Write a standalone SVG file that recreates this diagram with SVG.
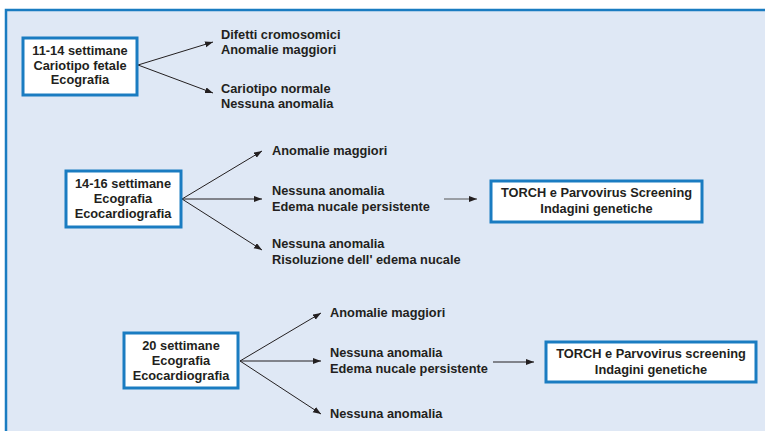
<svg xmlns="http://www.w3.org/2000/svg" width="765" height="431" viewBox="0 0 765 431">
<defs>
<style>
.t{font-family:"Liberation Sans",Arial,sans-serif;font-weight:bold;font-size:12.8px;fill:#231f20}
.c{text-anchor:middle}
.box{fill:#ffffff;stroke:#1a7cc1;stroke-width:3}
.ln{stroke:#231f20;stroke-width:1;fill:none;marker-end:url(#ah)}
</style>
<marker id="ah" markerUnits="userSpaceOnUse" markerWidth="9" markerHeight="7" refX="8" refY="3" orient="auto">
<path d="M0,0 L8,3 L0,6 z" fill="#231f20"/>
</marker>
</defs>
<rect x="0" y="0" width="765" height="431" fill="#ffffff"/>
<rect x="6" y="10" width="770" height="430" fill="#dfe8f5" stroke="#1a7cc1" stroke-width="2.5"/>

<g id="connectors">
<line class="ln" x1="138" y1="65" x2="213" y2="42"/>
<line class="ln" x1="138" y1="65" x2="213" y2="93"/>
<line class="ln" x1="182" y1="199" x2="262" y2="151"/>
<line class="ln" x1="182" y1="199" x2="262" y2="199"/>
<line class="ln" x1="182" y1="199" x2="262" y2="250"/>
<line class="ln" x1="444" y1="199" x2="477" y2="199" style="stroke:#555"/>
<line class="ln" x1="240" y1="361" x2="321" y2="313"/>
<line class="ln" x1="240" y1="361" x2="321" y2="361"/>
<line class="ln" x1="240" y1="361" x2="321" y2="414"/>
<line class="ln" x1="493" y1="362" x2="534" y2="362"/>
</g>

<g id="n1">
<rect class="box" x="23" y="38" width="114" height="57"/>
<text class="t c" x="80" y="55">11-14 settimane</text>
<text class="t c" x="80" y="69.5">Cariotipo fetale</text>
<text class="t c" x="80" y="84">Ecografia</text>
</g>
<g id="l1a">
<text class="t" x="221" y="39">Difetti cromosomici</text>
<text class="t" x="221" y="54">Anomalie maggiori</text>
</g>
<g id="l1b">
<text class="t" x="221" y="93">Cariotipo normale</text>
<text class="t" x="221" y="108">Nessuna anomalia</text>
</g>

<g id="n2">
<rect class="box" x="66" y="171" width="115" height="56"/>
<text class="t c" x="123" y="187.5">14-16 settimane</text>
<text class="t c" x="123" y="202.5">Ecografia</text>
<text class="t c" x="123" y="217.5">Ecocardiografia</text>
</g>
<g id="l2a"><text class="t" x="272" y="155">Anomalie maggiori</text></g>
<g id="l2b">
<text class="t" x="272" y="195">Nessuna anomalia</text>
<text class="t" x="272" y="211">Edema nucale persistente</text>
</g>
<g id="l2c">
<text class="t" x="272" y="248">Nessuna anomalia</text>
<text class="t" x="272" y="264">Risoluzione dell' edema nucale</text>
</g>
<g id="n3">
<rect class="box" x="491" y="181" width="211" height="41"/>
<text class="t c" x="596.5" y="197">TORCH e Parvovirus Screening</text>
<text class="t c" x="596.5" y="213">Indagini genetiche</text>
</g>

<g id="n4">
<rect class="box" x="124" y="333" width="114" height="55"/>
<text class="t c" x="181" y="349.5">20 settimane</text>
<text class="t c" x="181" y="364.5">Ecografia</text>
<text class="t c" x="181" y="379.5">Ecocardiografia</text>
</g>
<g id="l4a"><text class="t" x="330" y="317">Anomalie maggiori</text></g>
<g id="l4b">
<text class="t" x="330" y="357">Nessuna anomalia</text>
<text class="t" x="330" y="373">Edema nucale persistente</text>
</g>
<g id="l4c"><text class="t" x="330" y="418">Nessuna anomalia</text></g>
<g id="n5">
<rect class="box" x="546" y="342" width="210" height="40"/>
<text class="t c" x="651" y="358">TORCH e Parvovirus screening</text>
<text class="t c" x="651" y="374">Indagini genetiche</text>
</g>
</svg>
